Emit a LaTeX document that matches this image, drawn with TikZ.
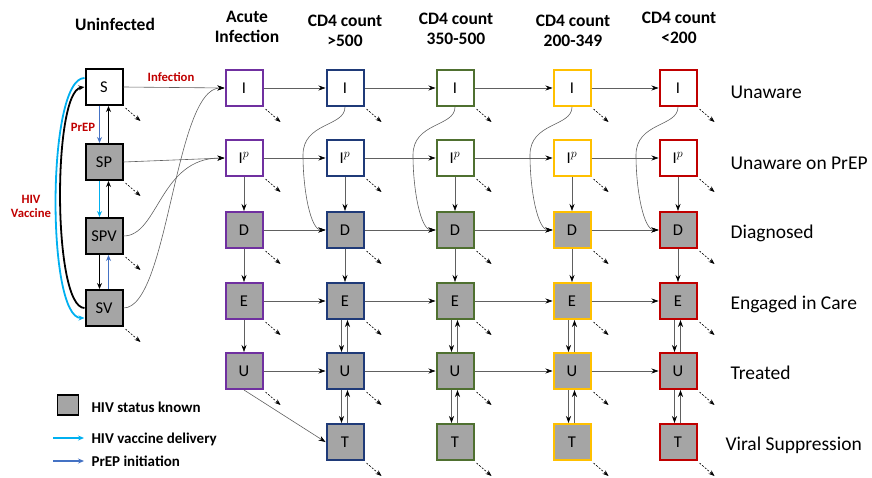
\documentclass[tikz,border=0pt]{standalone}
\usepackage{fontspec}
\setmainfont{Carlito}
\usetikzlibrary{arrows.meta,calc}
\definecolor{cpurple}{HTML}{7030A0}
\definecolor{cnavy}{HTML}{1F3A78}
\definecolor{cgreen}{HTML}{4F7030}
\definecolor{cyellow}{HTML}{FFC000}
\definecolor{cred}{HTML}{C00000}
\definecolor{boxgray}{HTML}{A5A5A5}
\definecolor{vaccyan}{HTML}{00B0F0}
\definecolor{prepblue}{HTML}{4472C4}
\definecolor{linegray}{HTML}{606060}
\begin{document}
\begin{tikzpicture}[x=1pt,y=-1pt,
 box/.style={draw, line width=2pt, minimum width=37pt, minimum height=36pt, inner sep=0pt, font=\fontsize{16.5}{17}\selectfont, fill=white},
 known/.style={fill=boxgray},
 ar/.style={draw=linegray, line width=0.6pt, -{Stealth[length=7pt,width=5pt,black]}},
 exitar/.style={dash pattern=on 2pt off 1.5pt, line width=0.6pt, -{Stealth[length=6pt,width=4.5pt]}},
 thickar/.style={line width=1.8pt, -{Stealth[length=6pt,width=5pt]}},
 cyanar/.style={draw=vaccyan, line width=1.8pt, -{Stealth[length=6pt,width=5pt]}},
 bluear/.style={draw=prepblue, line width=1.5pt, -{Stealth[length=6pt,width=5pt]}},
 head/.style={font=\fontsize{17.5}{20}\selectfont\bfseries, align=center},
 rowlab/.style={anchor=base west, font=\fontsize{19.5}{20}\selectfont},
 redlab/.style={text=cred, font=\fontsize{12.7}{14}\selectfont\bfseries, align=center},
 leglab/.style={anchor=base west, font=\fontsize{15}{16}\selectfont\bfseries}
]
\useasboundingbox (0,0) rectangle (872,478);

% headers
\node[head] (hU) at (115,24) {Uninfected};
\node[head] (ha) at (247,27) {Acute\\Infection};
\node[head] (hb) at (345,31) {CD4 count\\>500};
\node[head] (hc) at (456,29) {CD4 count\\350-500};
\node[head] (hd) at (573,31) {CD4 count\\200-349};
\node[head] (he) at (679,28) {CD4 count\\<200};

% uninfected column
\node[box] (S) at (104,87) {S};
\node[box,known] (SP) at (104,162) {SP};
\node[box,known] (SPV) at (104,236) {SPV};
\node[box,known] (SV) at (104,308) {SV};

% acute column
\node[box,draw=cpurple] (aI) at (244,88) {I};
\node[box,draw=cpurple] (aIP) at (244,158) {I$^{p}$};
\node[box,draw=cpurple,known] (aD) at (244,230) {D};
\node[box,draw=cpurple,known] (aE) at (244,301) {E};
\node[box,draw=cpurple,known] (aU) at (244,371) {U};

% CD4 columns
\foreach \c/\x/\col in {b/345/cnavy, c/455/cgreen, d/572/cyellow, e/678/cred}{
  \node[box,draw=\col] (\c I) at (\x,88) {I};
  \node[box,draw=\col] (\c IP) at (\x,158) {I$^{p}$};
  \node[box,draw=\col,known] (\c D) at (\x,230) {D};
  \node[box,draw=\col,known] (\c E) at (\x,301) {E};
  \node[box,draw=\col,known] (\c U) at (\x,371) {U};
  \node[box,draw=\col,known] (\c T) at (\x,442) {T};
}

% row labels
\node[rowlab] (r1) at (727,99) {Unaware};
\node[rowlab] (r2) at (727,170) {Unaware on PrEP};
\node[rowlab] (r3) at (727,239) {Diagnosed};
\node[rowlab] (r4) at (727,309) {Engaged in Care};
\node[rowlab] (r5) at (727,379) {Treated};
\node[rowlab] (r6) at (722,450) {Viral Suppression};

% red labels
\node[redlab] (linf) at (171,77) {Infection};
\node[redlab] (lprep) at (83,127) {PrEP};
\node[redlab] (lvac) at (31,206) {HIV\\Vaccine};

% uninfected transitions
\draw[bluear] ([xshift=-4.5pt]S.south) -- ([xshift=-4.5pt]SP.north);
\draw[thickar] ([xshift=4.5pt]SP.north) -- ([xshift=4.5pt]S.south);
\draw[cyanar] ([xshift=-4.5pt]SP.south) -- ([xshift=-4.5pt]SPV.north);
\draw[thickar] ([xshift=4.5pt]SPV.north) -- ([xshift=4.5pt]SP.south);
\draw[thickar] ([xshift=-4.5pt]SPV.south) -- ([xshift=-4.5pt]SV.north);
\draw[bluear] ([xshift=4.5pt]SV.north) -- ([xshift=4.5pt]SPV.south);
\draw[thickar] (SV.west) .. controls +(-32,0) and +(-32,5) .. (S.west);
\draw[cyanar] ([yshift=9pt]S.west) .. controls +(-38,0) and +(-38,0) .. ([yshift=-10pt]SV.west);

% infection
\draw[ar] (S.east) -- (aI.west);
\draw[ar] (SP.east) -- (aIP.west);
\draw[ar] (SPV.east) .. controls +(35,0) and +(-65,0) .. (aIP.west);
\draw[ar] (SV.east) .. controls +(45,0) and +(-50,0) .. (aI.west);

% horizontal progression
\foreach \p/\q in {a/b,b/c,c/d,d/e}{
  \foreach \r in {I,IP,D,E,U}{
    \draw[ar] (\p\r.east) -- (\q\r.west);
  }
}

% acute verticals
\draw[ar] (aIP.south) -- (aD.north);
\draw[ar] (aD.south) -- (aE.north);
\draw[ar] (aE.south) -- (aU.north);
\draw[ar] (aU.south) -- (bT.west);

% CD4 verticals
\foreach \c in {b,c,d,e}{
  \draw[ar] (\c I.south) .. controls +(0,20) and +(0,-33) .. ($(\c I.south)+(-42,48)$)
            .. controls +(0,35) and +(-15,0) .. (\c D.west);
  \draw[ar] (\c IP.south) -- (\c D.north);
  \draw[ar] (\c D.south) -- (\c E.north);
  \draw[ar] ([xshift=-3.5pt]\c E.south) -- ([xshift=-3.5pt]\c U.north);
  \draw[ar] ([xshift=2.5pt]\c U.north) -- ([xshift=2.5pt]\c E.south);
  \draw[ar] ([xshift=-3.5pt]\c U.south) -- ([xshift=-3.5pt]\c T.north);
  \draw[ar] ([xshift=2.5pt]\c T.north) -- ([xshift=2.5pt]\c U.south);
}

% exits
\foreach \n in {S,SP,SPV,SV,aI,aIP,aD,aE,aU}{
  \draw[exitar] ([shift={(2pt,-2pt)}]\n.south east) -- ++(15pt,-13pt);
}
\foreach \c in {b,c,d,e}{
  \foreach \r in {I,IP,D,E,U,T}{
    \draw[exitar] ([shift={(2pt,-2pt)}]\c\r.south east) -- ++(15pt,-13pt);
  }
}

% legend
\node[draw, line width=1.5pt, fill=boxgray, minimum width=21pt, minimum height=20pt, inner sep=0pt] (lg) at (68,405) {};
\node[leglab] (lgt1) at (88,412) {HIV status known};
\coordinate (la1) at (53,438);
\coordinate (lb1) at (84,438);
\draw[cyanar] (la1) -- (lb1);
\node[leglab] (lgt2) at (88,443) {HIV vaccine delivery};
\coordinate (la2) at (53,461);
\coordinate (lb2) at (84,461);
\draw[bluear] (la2) -- (lb2);
\node[leglab] (lgt3) at (88,466) {PrEP initiation};
\end{tikzpicture}
\end{document}
